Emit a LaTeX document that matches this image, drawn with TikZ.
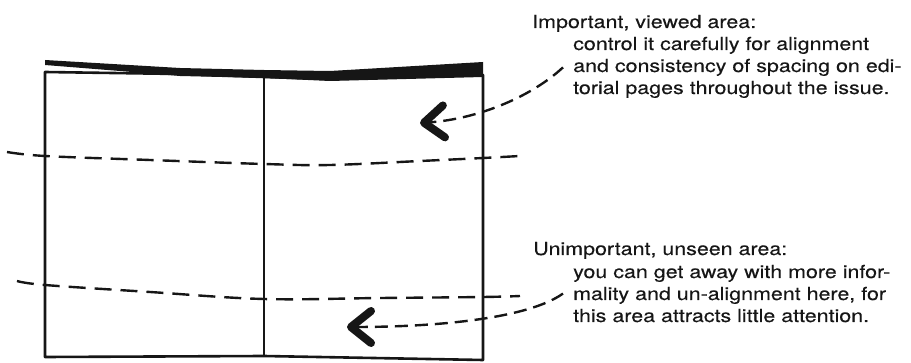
\documentclass[tikz,border=0pt]{standalone}
\usepackage{fontspec}
\newfontfamily\notefont{TeX Gyre Heros}[FakeStretch=1.19,FakeBold=0.3]
\usetikzlibrary{arrows.meta,positioning}
\definecolor{ink}{HTML}{161616}
\newcommand{\fullline}[1]{\leavevmode\hbox to 329pt{#1}}

\begin{document}
\begin{tikzpicture}[x=1pt,y=-1pt,
  page/.style={draw=ink,line width=2.6pt,line join=round},
  fold/.style={draw=ink,line width=2.4pt,dash pattern=on 17pt off 9pt},
  head/.style={anchor=base west,inner sep=0pt,text=ink,
    font=\notefont\fontsize{18}{22}\selectfont},
  body/.style={head,text width=329pt,align=left},
  pointer/.style={draw=ink,line width=2.4pt,dash pattern=on 13pt off 7pt,
    -{Straight Barb[length=20pt,width=32pt,line width=8pt,round]}}
]
\useasboundingbox (0,0) rectangle (911,363);

% the open spread
\fill[ink] (45,60) -- (180,68) -- (264,70) -- (330,71) -- (483,62)
  -- (483,77) -- (330,81) -- (264,78) -- (180,76) -- (120,71) -- (45,65) -- cycle;
\draw[page] (45,72) -- (180,74) -- (264,77) -- (330,79) -- (483,75)
  -- (483,360) -- (264,356) -- (45,357) -- cycle;
\draw[page] (264,77) -- (264,356);

% where the eye stops looking
\draw[fold] plot[smooth,tension=0.6] coordinates
  {(7,152) (45,156) (150,160) (264,164) (330,165) (420,161) (483,158) (520,156)};
\draw[fold] plot[smooth,tension=0.6] coordinates
  {(17,281) (45,285) (150,292) (264,299) (380,298) (483,297) (520,296)};

\node[head] (viewedhead) at (532,28) {Important, viewed area:};
\node[body,below right=22pt and 41pt of viewedhead.base west,anchor=base west] (viewedbody) {%
  \fullline{control it carefully for alignment}\\
  \fullline{and consistency of spacing on edi-}\\
  torial pages throughout the issue.};

\node[head] (unseenhead) at (533,255) {Unimportant, unseen area:};
\node[body,below right=23pt and 40pt of unseenhead.base west,anchor=base west] (unseenbody) {%
  \fullline{you can get away with more infor-}\\
  \fullline{mality and un-alignment here, for}\\
  this area attracts little attention.};

\coordinate (viewedtip) at (420,123);
\coordinate (unseentip) at (347,327);

\draw[pointer] ([xshift=-10pt]viewedbody.west) .. controls +(-30,28) and +(60,-4) .. (viewedtip);
\draw[pointer] ([xshift=-10pt]unseenbody.west) .. controls +(-35,25) and +(90,0) .. (unseentip);

\end{tikzpicture}
\end{document}
